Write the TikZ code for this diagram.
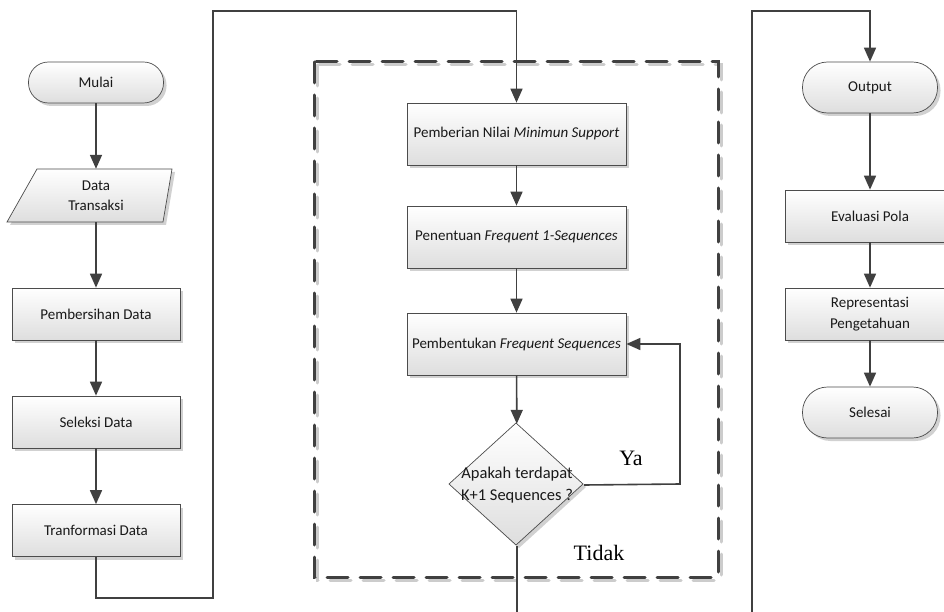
\documentclass[tikz,border=0pt]{standalone}
\usepackage{fontspec}
\setmainfont{Carlito}
\newfontfamily\lblfont{Liberation Serif}
\usetikzlibrary{arrows.meta,shadows}
\begin{document}
\begin{tikzpicture}[x=1pt,y=-1pt,
  conn/.style={draw=black!75, line width=1.6pt},
  arr/.style={conn, -{Triangle[length=14pt,width=12pt]}},
  shadefill/.style={top color=white, bottom color=black!13, draw=black!70, line width=0.7pt,
    drop shadow={shadow xshift=3pt, shadow yshift=-3pt, fill=black!18, opacity=1}},
  txt/.style={font=\fontsize{15}{20.5}\selectfont, align=center, inner sep=0pt, text=black!90},
  procbox/.style={shadefill, txt, rectangle, minimum width=168pt, minimum height=52pt},
  midbox/.style={procbox, minimum width=219pt, minimum height=62pt},
  term/.style={shadefill, txt, rectangle, minimum width=135pt, minimum height=51pt, rounded corners=25pt},
  ghost/.style={txt, rectangle},
  lbl/.style={font=\lblfont\fontsize{22}{24}\selectfont, inner sep=0pt}
]
\clip (0,0) rectangle (944,612);
\fill[white] (0,0) rectangle (944,612);

% dashed frame with its shadow
\draw[black!20, line width=3pt, line cap=round, dash pattern=on 21pt off 12pt] (317,65) rectangle (721,580);
\draw[black!75, line width=3pt, line cap=round, dash pattern=on 21pt off 12pt] (314,62) rectangle (718,577);

% left column
\node[term, minimum height=41pt, rounded corners=20pt] (mulai) at (96,82.5) {Mulai};
\path[shadefill] (7,222) -- (37,169) -- (172,169) -- (163,222) -- cycle;
\node[ghost, minimum width=130pt, minimum height=53pt] (data) at (96,195.5) {Data\\Transaksi};
\node[procbox] (bersih) at (96,314) {Pembersihan Data};
\node[procbox] (seleksi) at (96,422) {Seleksi Data};
\node[procbox] (trans) at (96,530.5) {Tranformasi Data};

% middle column
\node[midbox] (beri) at (516.5,134) {Pemberian Nilai \textit{Minimun Support}};
\node[midbox] (tentu) at (516.5,237) {Penentuan \textit{Frequent 1-Sequences}};
\node[midbox] (bentuk) at (516.5,344) {Pembentukan \textit{Frequent Sequences}};
\path[shadefill] (516,423) -- (583,484) -- (516,545) -- (449,484) -- cycle;
\node[ghost, minimum width=134pt, minimum height=122pt, font=\fontsize{16.5}{22}\selectfont] (dec) at (517,485) {Apakah terdapat\\K+1 Sequences ?};

% right column
\node[term] (out) at (870,87.5) {Output};
\node[procbox, minimum width=170pt] (eval) at (870,216) {Evaluasi Pola};
\node[procbox, minimum width=170pt] (rep) at (870,314) {Representasi\\Pengetahuan};
\node[term] (sel) at (870,412.5) {Selesai};

% helper coordinates
\coordinate (l1) at (213,598);
\coordinate (l2) at (213,11);
\coordinate (loopR) at (680,484);
\coordinate (r1) at (752,640);
\coordinate (r2) at (752,11);

% connectors
\draw[arr] (mulai) -- (data);
\draw[arr] (data) -- (bersih);
\draw[arr] (bersih) -- (seleksi);
\draw[arr] (seleksi) -- (trans);
\draw[arr] (trans.south) |- (l1) -- (l2) -| (beri.north);
\draw[arr] (beri) -- (tentu);
\draw[arr] (tentu) -- (bentuk);
\draw[arr] (bentuk) -- (dec);
\draw[arr] (dec.east) -- (loopR) |- (bentuk.east);
\draw[arr] (dec.south) |- (r1) -- (r2) -| (out.north);
\draw[arr] (out) -- (eval);
\draw[arr] (eval) -- (rep);
\draw[arr] (rep) -- (sel);

% labels
\node[lbl] (ya) at (631,458) {Ya};
\node[lbl] (tidak) at (599,553) {Tidak};
\end{tikzpicture}
\end{document}
